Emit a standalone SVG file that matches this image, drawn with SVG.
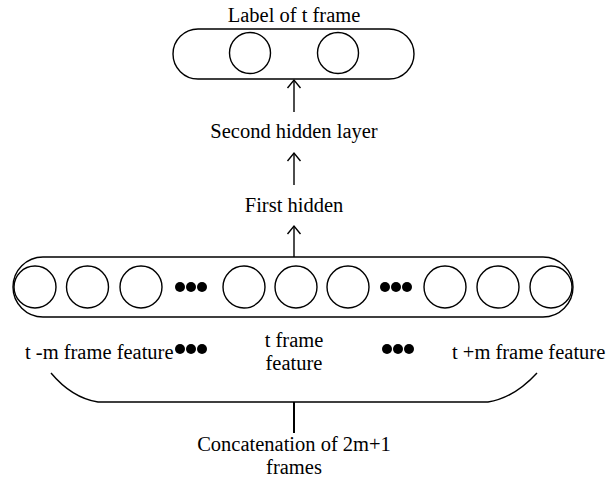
<svg xmlns="http://www.w3.org/2000/svg" width="616" height="479" viewBox="0 0 616 479">
<style>
text{font-size:20.5px;fill:#000}
.s{fill:none;stroke:#000;stroke-width:1.4}
.d{fill:#000}
</style>
<defs>
<marker id="ah" markerWidth="16" markerHeight="16" refX="9" refY="8" orient="auto" markerUnits="userSpaceOnUse" viewBox="0 0 16 16">
<path d="M1,1.5 L9,8 L1,14.5" fill="none" stroke="#000" stroke-width="1.4"/>
</marker>
</defs>
<rect width="616" height="479" fill="#fff"/>
<g font-family="'Liberation Serif', 'DejaVu Serif', serif">
<g id="output-layer">
<text x="294" y="22" text-anchor="middle">Label of t frame</text>
<rect class="s" x="173" y="29" width="241" height="50" rx="25"/>
<circle class="s" cx="250" cy="53" r="20.5"/>
<circle class="s" cx="338" cy="53" r="20.5"/>
</g>
<g id="second-hidden">
<text x="294" y="138" text-anchor="middle">Second hidden layer</text>
</g>
<g id="first-hidden">
<text x="294" y="212" text-anchor="middle">First hidden</text>
</g>
<g id="input-layer">
<rect class="s" x="13" y="257" width="560" height="60" rx="30"/>
<circle class="s" cx="35" cy="287" r="21"/>
<circle class="s" cx="87.5" cy="287" r="21"/>
<circle class="s" cx="141" cy="287" r="21"/>
<circle class="d" cx="180" cy="287" r="5"/>
<circle class="d" cx="191" cy="287" r="5"/>
<circle class="d" cx="202" cy="287" r="5"/>
<circle class="s" cx="244" cy="287" r="21"/>
<circle class="s" cx="296" cy="287" r="21"/>
<circle class="s" cx="348" cy="287" r="21"/>
<circle class="d" cx="385" cy="287" r="5"/>
<circle class="d" cx="396" cy="287" r="5"/>
<circle class="d" cx="407" cy="287" r="5"/>
<circle class="s" cx="445" cy="287" r="21"/>
<circle class="s" cx="498" cy="287" r="21"/>
<circle class="s" cx="551" cy="287" r="21"/>
</g>
<g id="labels">
<text x="25" y="359">t -m frame feature</text>
<circle class="d" cx="180" cy="349" r="5"/>
<circle class="d" cx="191" cy="349" r="5"/>
<circle class="d" cx="202" cy="349" r="5"/>
<text x="294" y="347" text-anchor="middle">t frame</text>
<text x="294" y="370" text-anchor="middle">feature</text>
<circle class="d" cx="387" cy="349" r="5"/>
<circle class="d" cx="398" cy="349" r="5"/>
<circle class="d" cx="409" cy="349" r="5"/>
<text x="452" y="359">t +m frame feature</text>
</g>
<g id="concatenation">
<text x="294" y="451" text-anchor="middle">Concatenation of 2m+1</text>
<text x="294" y="474" text-anchor="middle">frames</text>
</g>
</g>
<g id="connectors">
<line class="s" x1="294" y1="112" x2="294" y2="80" marker-end="url(#ah)"/>
<line class="s" x1="294" y1="185" x2="294" y2="153" marker-end="url(#ah)"/>
<line class="s" x1="294" y1="257" x2="294" y2="226" marker-end="url(#ah)"/>
<path class="s" d="M51,373 Q72,398 98,402 H488 Q514,398 537,373"/>
<line x1="294" y1="402" x2="294" y2="433" stroke="#000" stroke-width="2"/>
</g>
</svg>
